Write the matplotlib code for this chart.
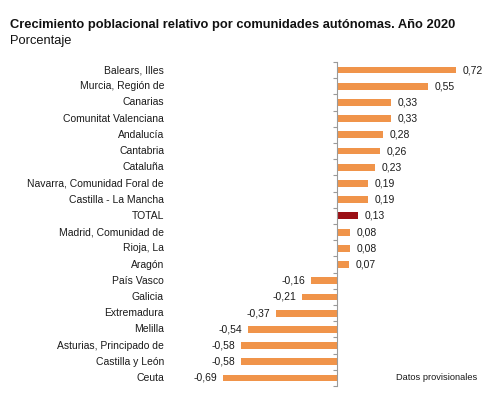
import matplotlib
matplotlib.use('Agg')
import matplotlib.pyplot as plt
from matplotlib.transforms import blended_transform_factory

plt.rcParams['font.family'] = ['Liberation Sans', 'DejaVu Sans']

# datos
regiones = ['Balears, Illes', 'Murcia, Región de', 'Canarias', 'Comunitat Valenciana',
            'Andalucía', 'Cantabria', 'Cataluña', 'Navarra, Comunidad Foral de',
            'Castilla - La Mancha', 'TOTAL', 'Madrid, Comunidad de', 'Rioja, La',
            'Aragón', 'País Vasco', 'Galicia', 'Extremadura', 'Melilla',
            'Asturias, Principado de', 'Castilla y León', 'Ceuta']
valores = [0.72, 0.55, 0.33, 0.33, 0.28, 0.26, 0.23, 0.19, 0.19, 0.13,
           0.08, 0.08, 0.07, -0.16, -0.21, -0.37, -0.54, -0.58, -0.58, -0.69]

naranja = '#F0944A'
rojo = '#9B1015'
colores = [rojo if r == 'TOTAL' else naranja for r in regiones]

W, H = 499, 405
fig = plt.figure(figsize=(W / 100, H / 100), dpi=100)
# eje: de x=180 a 470 px, filas de y=62 a 386 px
ax = fig.add_axes([180 / W, (H - 386.1) / H, 290 / W, 324.2 / H])

pos = list(range(len(regiones)))
ax.barh(pos, valores, height=0.42, color=colores)
ax.set_ylim(len(regiones) - 0.5, -0.5)
ax.set_xlim(-157 / 165, 133 / 165)

# eje vertical en el cero con marcas entre categorías
for s in ['top', 'right', 'bottom']:
    ax.spines[s].set_visible(False)
ax.spines['left'].set_position(('data', 0))
ax.spines['left'].set_color('#9a9a9a')
ax.spines['left'].set_linewidth(0.8)
ax.set_yticks([i - 0.5 for i in range(len(regiones) + 1)])
ax.set_yticklabels([])
ax.tick_params(axis='y', direction='out', length=3, color='#9a9a9a', width=0.8)
ax.set_xticks([])

# etiquetas de categorías alineadas a la derecha
trans = blended_transform_factory(fig.transFigure, ax.transData)
for i, r in enumerate(regiones):
    ax.text(164 / W, i, r, transform=trans, ha='right', va='center',
            fontsize=7.5, color='#1a1a1a')

# valores
for i, v in enumerate(valores):
    txt = f'{v:.2f}'.replace('.', ',')
    if v >= 0:
        ax.text(v + 0.04, i, txt, ha='left', va='center', fontsize=7.5, color='#1a1a1a')
    else:
        ax.text(v - 0.035, i, txt, ha='right', va='center', fontsize=7.5, color='#1a1a1a')

fig.text(10 / W, 1 - 25 / H, 'Crecimiento poblacional relativo por comunidades autónomas. Año 2020',
         ha='left', va='center', fontsize=9.25, fontweight='bold', color='#111111')
fig.text(10 / W, 1 - 41 / H, 'Porcentaje', ha='left', va='center', fontsize=9.25, color='#111111')
fig.text(396 / W, 1 - 377 / H, 'Datos provisionales', ha='left', va='center',
         fontsize=6.7, color='#1a1a1a')

fig.savefig('out.png', dpi=100, facecolor='white')
